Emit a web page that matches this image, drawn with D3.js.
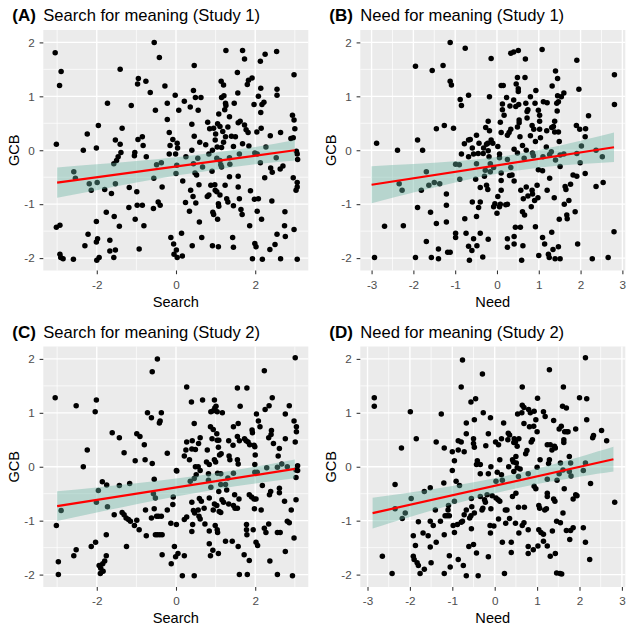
<!DOCTYPE html>
<html>
<head>
<meta charset="utf-8">
<script src="https://cdn.jsdelivr.net/npm/d3@7"></script>
<style>
  body { margin: 0; background: #fff; }
  svg { display: block; font-family: "Liberation Sans", Arial, sans-serif; }
</style>
</head>
<body>
<svg id="chart" width="634" height="633"></svg>
<script>
// points: [x, GCB]
const ptsA = [
  [-3.05,1.81],[-3.02,0.11],[-2.9,1.46],[-2.94,1.2],[-2.34,0.0],[-2.24,0.3],[-2.01,0.04],[-1.96,0.46],[-1.73,0.87],[-1.53,0.19],
  [-1.41,1.5],[-1.41,0.11],[-1.36,0.41],[-1.39,-0.04],[-1.46,-0.12],[-1.13,0.83],[-1.04,-0.04],[-1.05,-0.1],[-0.97,1.23],[-0.95,1.33],
  [-0.96,0.2],[-0.85,0.25],[-0.83,0.09],[-0.76,1.28],[-0.65,1.07],[-0.75,-0.12],[-0.55,2.0],[-0.52,0.74],[-0.42,1.72],[-0.28,1.19],
  [-0.22,0.87],[-0.22,0.57],[-0.17,0.33],[-0.08,0.2],[-0.15,0.09],[-0.17,-0.07],[-0.01,-0.07],[0.03,0.13],[0.04,0.04],[-0.02,1.02],
  [0.07,0.74],[0.21,0.91],[0.25,-0.12],[0.36,0.8],[0.4,0.48],[0.44,1.11],[0.46,1.57],[0.49,0.98],[0.46,0.26],[0.4,0.0],
  [0.56,0.74],[0.63,0.98],[0.55,-0.15],[0.8,0.52],[0.85,0.4],[0.92,0.0],[0.83,-0.07],[0.95,0.41],[0.99,0.19],[1.04,0.06],
  [1.05,0.49],[1.08,0.67],[1.11,0.44],[1.14,1.28],[1.15,0.98],[1.18,0.35],[1.25,0.25],[1.2,1.21],[1.21,1.01],[1.26,1.85],
  [1.23,0.75],[1.26,0.83],[1.25,0.87],[1.31,0.43],[1.35,0.62],[1.4,0.26],[1.47,0.87],[1.5,0.25],[1.45,0.07],[1.55,1.44],
  [1.56,1.06],[1.57,0.51],[1.62,0.54],[1.68,1.85],[1.73,1.69],[1.68,0.12],[1.73,0.47],[1.77,0.38],[1.8,1.22],[1.83,1.3],
  [1.92,1.34],[1.84,0.08],[1.82,0.33],[1.97,0.85],[2.04,0.34],[2.08,1.0],[2.13,1.65],[2.14,1.15],[2.14,0.7],[2.15,0.41],
  [2.17,0.85],[2.22,0.89],[2.25,1.78],[2.27,0.06],[2.38,0.27],[2.54,1.83],[2.55,1.13],[2.55,1.02],[2.64,0.33],[2.94,0.65],
  [2.98,1.4],[2.98,0.56],[3.0,0.4],[2.96,0.23],[2.9,0.22],[3.04,-0.02],[3.06,-0.07],[1.03,-0.15],[1.35,-0.14],[1.6,-0.07],
  [1.99,-0.05],[2.05,-0.07],[2.13,-0.23],[2.53,-0.14],[3.07,-0.17],[1.0,0.3],[1.2,0.15],[0.75,0.1],[1.15,0.05],[0.6,0.15],
  [-2.58,-0.4],[-2.54,-0.52],[-2.19,-0.62],[-2.14,-0.74],[-1.99,-0.6],[-1.8,-0.73],[-1.63,-0.8],[-1.53,-0.62],[-1.57,-0.25],[-1.5,-0.19],
  [-1.18,-0.69],[-0.99,-0.77],[-0.98,-1.02],[-0.85,-1.02],[-0.57,-1.08],[-0.45,-0.96],[-0.4,-1.02],[-0.35,-0.68],[-0.56,-0.52],[-0.49,-0.27],
  [-0.37,-0.23],[0.0,-0.43],[0.02,-0.28],[0.17,-0.57],[0.24,-0.97],[0.34,-1.13],[0.37,-0.74],[0.43,-0.86],[0.44,-0.25],[0.48,-0.42],
  [0.5,-0.98],[0.52,-0.46],[0.58,-0.64],[0.59,-1.33],[0.67,-0.31],[0.79,-0.86],[0.83,-0.83],[0.88,-0.65],[0.91,-0.39],[0.93,-1.15],
  [0.95,-1.19],[0.98,-0.64],[0.99,-0.74],[1.03,-0.77],[1.07,-0.99],[1.08,-1.04],[1.05,-1.28],[1.11,-0.83],[1.13,-0.27],[1.15,-0.31],
  [1.11,-0.19],[1.24,-0.65],[1.28,-0.9],[1.31,-0.96],[1.35,-0.49],[1.36,-0.26],[1.45,-1.03],[1.57,-0.48],[1.57,-0.68],[1.6,-0.9],
  [1.64,-1.1],[1.67,-1.19],[1.88,-0.75],[1.86,-1.4],[1.98,-0.91],[2.08,-0.9],[2.05,-1.13],[2.16,-1.28],[2.24,-0.51],[2.42,-0.94],
  [2.39,-0.33],[2.43,-0.41],[2.63,-0.35],[2.7,-0.29],[2.75,-1.14],[2.74,-1.4],[2.76,-1.6],[2.96,-0.51],[2.98,-1.47],[3.03,-0.74],
  [3.06,-0.6],[3.06,-0.68],[-3.02,-1.43],[-2.93,-1.39],[-2.93,-1.93],[-2.91,-1.99],[-2.85,-2.01],[-2.59,-2.02],[-2.3,-1.77],[-2.22,-1.56],
  [-2.01,-1.32],[-1.98,-1.64],[-2.01,-1.7],[-2.0,-2.04],[-1.94,-1.99],[-1.76,-1.15],[-1.67,-1.67],[-1.67,-1.87],[-1.57,-1.99],[-1.53,-1.85],
  [-1.56,-1.23],[-1.43,-1.41],[-1.19,-1.06],[-1.03,-1.28],[-0.93,-1.83],[-0.81,-1.4],[-0.13,-1.62],[-0.06,-1.74],[-0.05,-1.93],[0.01,-1.85],
  [0.03,-1.99],[0.14,-1.54],[0.16,-1.96],[0.41,-1.77],[0.65,-1.62],[0.92,-1.77],[1.07,-1.79],[1.43,-1.62],[1.45,-1.8],[1.93,-2.01],
  [1.99,-1.73],[2.02,-1.79],[2.18,-2.02],[2.37,-1.84],[2.5,-1.75],[2.55,-1.56],[2.64,-2.01],[3.06,-2.02]
];
const ptsB = [
  [-2.88,0.13],[-2.38,0.0],[-1.95,1.56],[-1.9,0.19],[-1.78,0.0],[-1.55,1.48],[-1.45,0.4],[-1.29,1.57],[-1.26,0.46],[-1.12,2.0],
  [-1.12,1.28],[-1.09,1.21],[-1.04,0.41],[-0.88,0.94],[-0.85,0.83],[-0.85,-0.07],[-0.76,1.89],[-0.78,0.12],[-0.68,1.02],[-0.68,0.19],
  [-0.64,0.2],[-0.68,-0.12],[-0.59,0.04],[-0.49,0.28],[-0.43,0.13],[-0.45,-0.06],[-0.33,-0.06],[-0.32,0.04],[-0.27,0.42],[-0.25,0.11],
  [-0.22,0.13],[-0.21,0.54],[-0.18,0.99],[-0.18,0.36],[-0.14,1.7],[-0.14,0.19],[-0.1,0.13],[-0.21,-0.01],[0.02,0.07],[0.06,-0.07],
  [0.08,0.52],[0.1,1.2],[0.13,0.86],[0.13,0.75],[0.17,0.65],[0.15,1.2],[0.1,0.33],[0.23,0.98],[0.25,0.28],[0.29,0.33],
  [0.33,0.39],[0.33,1.8],[0.31,0.82],[0.4,1.82],[0.4,0.93],[0.45,0.81],[0.46,1.23],[0.49,1.35],[0.51,1.85],[0.51,1.14],
  [0.51,1.09],[0.52,0.85],[0.53,0.56],[0.53,0.51],[0.49,0.43],[0.55,0.25],[0.61,0.09],[0.41,0.02],[0.67,1.35],[0.68,1.69],
  [0.69,0.87],[0.72,0.72],[0.74,0.75],[0.72,0.6],[0.8,0.99],[0.8,0.27],[0.84,0.46],[0.88,0.39],[0.91,0.87],[0.92,0.16],
  [0.93,1.11],[0.99,0.74],[1.02,0.65],[1.02,0.54],[1.02,0.39],[1.04,0.23],[1.08,1.87],[1.11,0.9],[1.2,0.88],[1.19,0.36],
  [1.18,0.06],[1.31,0.42],[1.32,1.19],[1.35,0.44],[1.4,1.47],[1.43,0.87],[1.44,0.73],[1.45,1.01],[1.45,1.33],[1.38,0.54],
  [1.38,0.34],[1.47,0.34],[1.49,0.16],[1.47,0.9],[1.54,0.99],[1.6,1.06],[1.91,1.67],[1.9,0.46],[1.96,1.13],[1.98,0.39],
  [2.11,0.25],[2.12,0.4],[2.19,0.64],[2.81,1.4],[2.81,0.85],[2.02,0.08],[2.37,0.0],[2.52,-0.12],[1.91,-0.06],[1.51,-0.09],
  [0.7,0.0],[0.85,-0.05],[1.3,-0.03],[-0.56,-0.07],[-0.19,-0.12],[-0.16,-0.25],[0.06,-0.14],[0.25,-0.17],[0.49,-0.05],[-0.99,-0.26],
  [-0.9,-0.27],[-0.89,-0.54],[-0.49,-0.25],[-2.34,-0.62],[-2.27,-0.74],[-1.81,-0.74],[-1.69,-0.4],[-1.63,-0.65],[-1.5,-0.6],[-1.37,-0.62],
  [-1.21,-0.81],[-1.21,-1.02],[-1.9,-1.06],[-1.59,-1.15],[-1.45,-1.36],[-1.21,-1.33],[-2.69,-1.41],[-2.24,-1.4],[-1.69,-1.69],[-1.4,-1.83],
  [-1.18,-1.89],[-1.12,-1.89],[-1.4,-2.01],[-1.57,-1.99],[-1.95,-1.99],[-2.93,-1.99],[-0.99,-1.54],[-0.99,-1.62],[-0.77,-1.27],[-0.74,-1.54],
  [-0.68,-1.78],[-0.66,-2.04],[-0.6,-1.86],[-0.56,-1.64],[-0.48,-1.77],[-0.49,-1.23],[-0.59,-0.96],[-0.4,-0.96],[-0.44,-1.06],[-0.4,-1.54],
  [-0.34,-1.98],[-0.21,-1.65],[-0.51,-0.54],[-0.4,-0.69],[-0.3,-0.48],[-0.28,-0.37],[-0.25,-0.65],[-0.22,-0.73],[-0.16,-0.4],[-0.08,-0.32],
  [-0.05,-0.99],[-0.08,-1.05],[0.0,-1.17],[0.02,-0.86],[0.06,-1.05],[0.08,-1.0],[0.1,-0.56],[0.1,-0.74],[0.1,-0.42],[0.21,-1.01],
  [0.25,-1.0],[0.3,-0.47],[0.36,-0.46],[0.33,-0.32],[0.41,-0.57],[0.44,-1.43],[0.41,-1.6],[0.41,-1.74],[0.25,-1.64],[0.25,-1.8],
  [0.56,-1.43],[0.57,-0.74],[0.59,-2.04],[0.62,-1.77],[0.61,-1.14],[0.63,-0.9],[0.66,-1.2],[0.7,-0.68],[0.74,-0.85],[0.84,-0.74],
  [0.85,-0.81],[0.82,-1.05],[0.9,-0.93],[0.92,-1.42],[0.96,-0.65],[0.98,-0.88],[1.0,-1.95],[0.99,-0.36],[1.09,-0.38],[1.09,-1.62],
  [1.14,-1.74],[1.2,-0.74],[1.23,-1.93],[1.26,-0.52],[1.25,-1.99],[1.31,-1.52],[1.34,-1.84],[1.37,-0.88],[1.39,-2.01],[1.47,-1.79],
  [1.49,-1.28],[1.51,-2.01],[1.51,-0.3],[1.61,-1.0],[1.63,-0.67],[1.65,-0.73],[1.67,-1.2],[1.68,-1.27],[1.72,-0.93],[1.76,-0.63],
  [1.82,-0.46],[1.87,-1.14],[1.91,-0.48],[1.93,-1.74],[1.99,-0.23],[2.11,-0.43],[2.28,-2.01],[2.37,-0.67],[2.54,-0.6],[2.66,-1.99],
  [2.8,-1.51],[0.65,-0.15],[0.87,-0.1],[1.1,-0.12],[1.26,-0.08],[1.4,-0.18],[1.6,-0.07]
];
const ptsC = [
  [-3.05,1.28],[-2.52,1.13],[-2.34,0.0],[-2.24,0.31],[-2.04,1.02],[-2.01,1.24],[-1.61,0.63],[-1.43,0.54],[-1.31,0.26],[-1.03,0.11],
  [-0.99,0.61],[-0.91,0.56],[-0.8,0.41],[-0.78,0.13],[-0.72,1.0],[-0.62,0.91],[-0.6,0.06],[-0.6,1.76],[-0.47,2.0],[-0.42,0.81],
  [-0.4,0.85],[-0.37,1.0],[-0.22,0.25],[0.01,-0.07],[0.21,0.2],[0.25,0.31],[0.27,1.48],[0.27,0.46],[0.34,0.13],[0.39,1.2],
  [0.41,0.48],[0.4,0.33],[0.46,0.8],[0.49,0.32],[0.49,0.0],[0.57,0.43],[0.61,0.54],[0.67,1.24],[0.61,-0.07],[0.79,0.31],
  [0.77,0.09],[0.84,0.04],[0.88,1.02],[0.87,0.74],[0.91,0.52],[0.94,0.69],[0.94,1.04],[0.97,1.24],[0.98,1.09],[1.01,1.12],
  [1.04,1.02],[0.97,0.13],[1.0,0.09],[1.03,0.61],[1.04,0.49],[1.08,0.49],[1.07,0.36],[1.1,0.22],[1.14,0.24],[1.17,1.0],
  [1.34,0.2],[1.33,0.48],[1.36,0.13],[1.44,0.4],[1.45,0.74],[1.55,1.46],[1.55,0.56],[1.55,0.13],[1.57,0.8],[1.57,0.05],
  [1.62,1.12],[1.6,0.48],[1.73,0.52],[1.77,0.48],[1.79,1.46],[1.82,0.46],[1.86,0.41],[1.92,0.68],[1.93,0.63],[1.97,0.4],
  [1.99,0.37],[2.0,0.22],[2.03,0.98],[2.08,0.85],[2.12,0.74],[1.99,0.04],[2.23,1.78],[2.25,1.06],[2.35,1.13],[2.43,1.28],
  [2.34,0.54],[2.4,0.6],[2.41,0.67],[2.46,0.43],[2.58,0.2],[2.61,0.34],[2.67,0.05],[2.76,0.98],[2.76,0.52],[2.86,1.13],
  [2.98,0.85],[3.01,2.02],[3.01,0.46],[3.04,0.74],[3.04,0.65],[3.07,0.02],[3.07,-0.07],[0.56,0.0],[0.82,-0.13],[1.05,-0.12],
  [1.13,-0.13],[1.45,-0.12],[1.99,-0.1],[2.05,-0.1],[2.29,-0.02],[2.56,-0.01],[2.81,0.0],
  [-3.02,-1.09],[-2.9,-0.81],[-2.97,-1.76],[-2.97,-2.0],[-2.58,-1.65],[-2.52,-1.54],[-2.14,-1.48],[-2.03,-1.4],[-2.01,-0.66],[-1.96,-0.44],
  [-1.94,-1.83],[-1.91,-1.98],[-1.9,-1.88],[-1.85,-1.8],[-1.84,-1.94],[-1.8,-1.75],[-1.76,-1.65],[-1.76,-1.26],[-1.86,-0.28],[-1.75,-0.34],
  [-1.73,-0.74],[-1.56,-0.89],[-1.43,-0.35],[-1.36,-0.85],[-1.31,-0.89],[-1.26,-0.95],[-1.25,-1.48],[-1.2,-0.98],[-1.17,-0.31],[-1.15,-1.01],
  [-1.05,-1.09],[-0.99,-0.99],[-0.93,-1.17],[-0.77,-0.8],[-0.75,-1.28],[-0.62,-0.95],[-0.55,-0.78],[-0.55,-0.23],[-0.57,-0.5],[-0.52,-0.58],
  [-0.49,-0.92],[-0.44,-0.92],[-0.37,-0.92],[-0.52,-1.26],[-0.47,-1.26],[-0.41,-1.26],[-0.35,-1.26],[-0.35,-1.63],[-0.22,-0.8],[-0.13,-1.05],
  [-0.12,-1.8],[-0.08,-0.7],[-0.07,-0.56],[-0.04,-1.48],[-0.01,-1.67],[0.01,-1.07],[0.02,-0.08],[0.05,-1.61],[0.16,-2.02],[0.21,-1.65],
  [0.21,-0.98],[0.27,-0.93],[0.36,-0.27],[0.4,-0.66],[0.4,-1.2],[0.42,-1.07],[0.44,-0.81],[0.47,-0.86],[0.46,-2.02],[0.46,-0.22],
  [0.51,-0.15],[0.56,-0.8],[0.59,-0.59],[0.58,-0.92],[0.61,-0.97],[0.64,-0.64],[0.71,-0.77],[0.73,-1.06],[0.82,-0.25],[0.84,-0.58],
  [0.84,-1.19],[0.84,-1.43],[0.87,-1.65],[0.88,-0.38],[0.93,-1.55],[0.94,-0.8],[0.97,-0.69],[0.99,-1.09],[1.03,-0.72],[1.04,-1.17],
  [1.05,-1.22],[1.07,-1.61],[1.08,-0.46],[1.09,-0.83],[1.13,-0.85],[1.13,-0.33],[1.16,-0.61],[1.2,-0.66],[1.25,-1.38],[1.25,-0.33],
  [1.28,-0.43],[1.31,-0.21],[1.33,-0.69],[1.42,-1.38],[1.45,-0.72],[1.48,-0.52],[1.49,-0.77],[1.55,-0.77],[1.57,-1.48],[1.59,-0.6],
  [1.6,-2.0],[1.72,-1.63],[1.78,-1.07],[1.78,-1.17],[1.79,-1.26],[1.8,-2.0],[1.85,-1.74],[1.85,-0.52],[1.91,-0.56],[1.95,-1.17],
  [1.97,-0.6],[1.98,-0.78],[2.02,-0.6],[2.02,-1.4],[2.06,-1.46],[2.15,-0.8],[2.18,-0.35],[2.23,-1.14],[2.27,-1.22],[2.34,-1.06],
  [2.36,-0.52],[2.39,-0.46],[2.37,-1.75],[2.56,-2.0],[2.56,-1.22],[2.61,-0.4],[2.61,-0.48],[2.63,-1.22],[2.74,-0.64],[2.76,-1.57],
  [2.81,-1.01],[2.86,-1.04],[2.91,-0.8],[2.94,-2.02],[2.98,-1.32],[3.03,-0.61],[3.03,-0.2],[3.03,-0.06]
];
const ptsD = [
  [-2.84,1.28],[-2.84,1.12],[-2.2,0.35],[-1.99,1.02],[-1.85,0.52],[-1.38,0.46],[-1.26,0.98],[-1.19,0.35],[-1.0,0.28],[-1.0,-0.07],
  [-0.95,0.11],[-0.86,0.31],[-0.86,0.48],[-0.79,1.48],[-0.79,0.46],[-0.76,1.98],[-0.72,0.28],[-0.67,0.81],[-0.67,0.61],[-0.56,1.2],
  [-0.45,1.26],[-0.48,0.87],[-0.5,0.52],[-0.5,0.43],[-0.48,0.36],[-0.43,0.04],[-0.41,0.11],[-0.34,0.04],[-0.29,1.72],[-0.27,1.0],
  [-0.21,0.39],[-0.15,0.61],[-0.1,0.91],[-0.09,0.0],[0.02,0.46],[0.09,0.41],[0.12,0.13],[0.16,0.52],[0.21,0.81],[0.31,0.5],
  [0.32,0.62],[0.33,0.0],[0.35,0.59],[0.42,0.13],[0.44,0.09],[0.45,0.45],[0.46,0.52],[0.49,0.46],[0.5,0.19],[0.51,0.07],
  [0.53,-0.02],[0.54,0.98],[0.53,0.38],[0.57,0.52],[0.65,1.48],[0.65,1.14],[0.69,1.1],[0.64,1.0],[0.69,0.8],[0.73,0.24],
  [0.76,0.3],[0.8,1.06],[0.84,1.0],[0.82,0.74],[0.86,0.46],[0.92,0.75],[0.89,0.5],[0.93,1.03],[0.97,0.87],[1.0,0.65],
  [1.01,1.27],[1.07,0.13],[1.15,1.02],[1.19,0.93],[1.24,0.41],[1.29,1.8],[1.29,0.13],[1.31,0.41],[1.35,0.31],[1.39,0.86],
  [1.41,0.38],[1.43,0.35],[1.52,0.7],[1.57,0.75],[1.6,1.12],[1.62,1.48],[1.63,0.5],[1.63,0.45],[1.65,0.65],[1.69,1.09],
  [1.7,0.65],[1.73,0.65],[1.76,0.19],[1.91,0.7],[2.0,1.28],[2.14,2.02],[2.17,1.26],[2.17,0.87],[2.31,0.54],[2.33,0.58],
  [2.52,0.67],[2.64,0.48],[2.14,0.07],[1.55,0.07],[1.79,0.07],[1.27,0.06],[0.6,-0.04],
  [-2.35,-0.33],[-2.65,-1.66],[-2.42,-1.98],[-2.35,-0.78],[-2.18,-0.96],[-2.11,-0.86],[-1.97,-0.59],[-1.92,-1.28],[-1.87,-1.46],[-1.92,-1.66],
  [-1.9,-1.72],[-1.83,-1.78],[-1.8,-1.83],[-1.8,-1.02],[-1.76,-1.98],[-1.69,-1.23],[-1.66,-1.9],[-1.66,-0.46],[-1.57,-1.28],[-1.52,-0.39],
  [-1.52,-1.01],[-1.52,-1.49],[-1.5,-1.78],[-1.45,-1.09],[-1.4,-0.8],[-1.38,-1.4],[-1.28,-1.01],[-1.2,-0.3],[-1.19,-1.26],[-1.19,-1.98],
  [-1.17,-0.91],[-1.12,-0.91],[-1.1,-0.8],[-1.09,-0.72],[-1.07,-0.91],[-1.07,-1.65],[-1.05,-1.86],[-0.98,-1.09],[-0.95,-1.22],[-0.95,-0.64],
  [-0.91,-0.27],[-0.88,-1.07],[-0.86,-1.72],[-0.83,-0.35],[-0.79,-1.03],[-0.76,-1.01],[-0.74,-1.83],[-0.72,-0.89],[-0.67,-2.02],[-0.67,-0.8],
  [-0.61,-1.48],[-0.59,-0.95],[-0.56,-0.91],[-0.55,-1.15],[-0.55,-0.59],[-0.54,-0.74],[-0.5,-1.44],[-0.48,-0.86],[-0.43,-1.6],[-0.39,-2.02],
  [-0.34,-0.55],[-0.3,-0.8],[-0.28,-0.77],[-0.24,-0.61],[-0.22,-0.66],[-0.18,-0.52],[-0.15,-1.67],[-0.11,-1.09],[-0.1,-1.23],[-0.09,-0.78],
  [-0.06,-0.54],[-0.02,-1.1],[0.03,-0.58],[0.08,-0.61],[0.09,-0.97],[0.12,-0.64],[0.18,-1.4],[0.23,-1.98],[0.25,-0.8],[0.26,-1.05],
  [0.29,-0.8],[0.35,-0.96],[0.39,-1.4],[0.39,-1.59],[0.42,-0.55],[0.5,-0.49],[0.49,-1.05],[0.56,-0.75],[0.57,-1.23],[0.65,-1.09],
  [0.69,-1.04],[0.7,-0.75],[0.79,-1.17],[0.79,-1.48],[0.79,-1.61],[0.91,-1.54],[0.93,-0.36],[0.97,-0.41],[1.02,-1.47],[1.04,-0.72],
  [1.04,-1.17],[1.06,-0.77],[1.09,-1.22],[1.15,-1.25],[1.15,-1.38],[1.18,-0.8],[1.22,-0.78],[1.24,-1.47],[1.24,-0.55],[1.24,-0.49],
  [1.31,-1.66],[1.36,-1.19],[1.39,-0.6],[1.42,-0.64],[1.43,-1.61],[1.46,-1.97],[1.46,-1.01],[1.47,-0.25],[1.54,-1.98],[1.55,-1.04],
  [1.58,-1.99],[1.61,-0.86],[1.64,-0.41],[1.69,-1.18],[1.77,-1.35],[1.79,-1.18],[1.85,-1.13],[1.85,-0.6],[1.91,-0.52],[1.94,-0.54],
  [2.09,-1.13],[2.14,-1.4],[2.24,-1.72],[2.26,-0.31],[2.83,-0.66],[2.09,-0.07],[1.8,-0.17],[-0.34,-0.13],[-0.15,-0.13],[0.06,-0.1],
  [0.16,-0.15],[0.45,-0.09],[0.56,-0.18],[0.79,-0.13],[1.0,-0.01],[1.24,-0.23],[1.52,-0.13],[1.61,-0.06],[1.76,-0.09],[0.03,-0.27],
  [0.18,-0.25]
];

// linear fit and 95% band, per panel
const bandXA = [-3, -2, -1, 0, 1, 2, 3];
const bandLoA = [-0.88, -0.74, -0.60, -0.47, -0.36, -0.26, -0.19];
const bandHiA = [-0.32, -0.26, -0.20, -0.13, -0.04, 0.06, 0.19];
const lineA = [[-3, -0.60], [3, 0.0]];

const bandXB = [-3, -2, -1, 0, 1, 2, 2.8];
const bandLoB = [-0.985, -0.785, -0.596, -0.435, -0.324, -0.257, -0.219];
const bandHiB = [-0.295, -0.255, -0.204, -0.125, 0.004, 0.177, 0.331];
const lineB = [[-3, -0.64], [2.8, 0.056]];

const bandXC = [-3, -2, -1, 0, 1, 2, 3];
const bandLoC = [-1.005, -0.847, -0.694, -0.55, -0.42, -0.309, -0.215];
const bandHiC = [-0.455, -0.383, -0.306, -0.22, -0.12, -0.001, 0.135];
const lineC = [[-3, -0.73], [3, -0.04]];

const bandXD = [-2.88, -2, -1, 0, 1, 2, 2.8];
const bandLoD = [-1.145, -0.933, -0.702, -0.493, -0.322, -0.185, -0.09];
const bandHiD = [-0.575, -0.477, -0.356, -0.213, -0.032, 0.183, 0.37];
const lineD = [[-2.88, -0.86], [2.8, 0.14]];

const tags = ["(A)", "(B)", "(C)", "(D)"];
const titles = ["Search for meaning (Study 1)", "Need for meaning (Study 1)",
                "Search for meaning (Study 2)", "Need for meaning (Study 2)"];
const xTitles = ["Search", "Need", "Search", "Need"];
const yTicks = [-2, -1, 0, 1, 2];
const searchTicks = [-2, 0, 2];
const needTicks = [-3, -2, -1, 0, 1, 2, 3];

const svg = d3.select("#chart");

const panels = [
  { left: 43.3, top: 30, xDom: [-3.35, 3.34], ticks: searchTicks, pts: ptsA, bx: bandXA, lo: bandLoA, hi: bandHiA, line: lineA },
  { left: 360.3, top: 30, xDom: [-3.27, 3.07], ticks: needTicks, pts: ptsB, bx: bandXB, lo: bandLoB, hi: bandHiB, line: lineB },
  { left: 43.3, top: 346.5, xDom: [-3.35, 3.34], ticks: searchTicks, pts: ptsC, bx: bandXC, lo: bandLoC, hi: bandHiC, line: lineC },
  { left: 360.3, top: 346.5, xDom: [-3.17, 3.08], ticks: needTicks, pts: ptsD, bx: bandXD, lo: bandLoD, hi: bandHiD, line: lineD }
];
const pw = 265, ph = 240.5;

// minor grid halfway between major ticks
function minorOf(ticks, dom) {
  const step = ticks[1] - ticks[0];
  const out = [];
  for (let v = ticks[0] - step / 2; v <= dom[1]; v += step) {
    if (v >= dom[0]) out.push(v);
  }
  return out;
}

panels.forEach(function(p, i) {
  const x = d3.scaleLinear().domain(p.xDom).range([0, pw]);
  const y = d3.scaleLinear().domain([-2.23, 2.23]).range([ph, 0]);
  const g = svg.append("g").attr("transform", "translate(" + p.left + "," + p.top + ")");

  g.append("rect").attr("width", pw).attr("height", ph).attr("fill", "#EBEBEB");

  g.append("clipPath").attr("id", "clip" + i)
    .append("rect").attr("width", pw).attr("height", ph);

  // grid
  const grid = g.append("g").attr("stroke", "#fff");
  grid.selectAll(".vmin").data(minorOf(p.ticks, p.xDom)).enter().append("line")
    .attr("x1", d => x(d)).attr("x2", d => x(d)).attr("y1", 0).attr("y2", ph).attr("stroke-width", 0.7);
  grid.selectAll(".hmin").data(minorOf(yTicks, [-2.23, 2.23])).enter().append("line")
    .attr("y1", d => y(d)).attr("y2", d => y(d)).attr("x1", 0).attr("x2", pw).attr("stroke-width", 0.7);
  grid.selectAll(".vmaj").data(p.ticks).enter().append("line")
    .attr("x1", d => x(d)).attr("x2", d => x(d)).attr("y1", 0).attr("y2", ph).attr("stroke-width", 1.4);
  grid.selectAll(".hmaj").data(yTicks).enter().append("line")
    .attr("y1", d => y(d)).attr("y2", d => y(d)).attr("x1", 0).attr("x2", pw).attr("stroke-width", 1.4);

  const art = g.append("g").attr("clip-path", "url(#clip" + i + ")");

  art.selectAll("circle").data(p.pts).enter().append("circle")
    .attr("cx", d => x(d[0])).attr("cy", d => y(d[1])).attr("r", 2.75).attr("fill", "#000");

  const area = d3.area()
    .x((d, j) => x(p.bx[j]))
    .y0((d, j) => y(p.lo[j]))
    .y1((d, j) => y(p.hi[j]))
    .curve(d3.curveNatural);
  art.append("path").datum(p.bx).attr("d", area)
    .attr("fill", "#69b3a2").attr("fill-opacity", 0.4);

  art.append("path").datum(p.line)
    .attr("d", d3.line().x(d => x(d[0])).y(d => y(d[1])))
    .attr("stroke", "red").attr("stroke-width", 2.2).attr("fill", "none");

  // axes
  const xAxis = g.append("g").attr("transform", "translate(0," + ph + ")")
    .call(d3.axisBottom(x).tickValues(p.ticks).tickSize(3.7).tickPadding(6.3).tickFormat(d => String(d)));
  const yAxis = g.append("g")
    .call(d3.axisLeft(y).tickValues(yTicks).tickSize(3.7).tickPadding(4.9).tickFormat(d => String(d)));
  [xAxis, yAxis].forEach(function(a) {
    a.select(".domain").remove();
    a.selectAll(".tick line").attr("stroke", "#333").attr("stroke-width", 1.07);
    a.selectAll(".tick text").attr("fill", "#4D4D4D").style("font-size", "11.7px")
      .style("font-family", "'Liberation Sans', Arial, sans-serif");
  });

  // labels
  g.append("text").attr("x", pw / 2).attr("y", ph + 36)
    .attr("text-anchor", "middle").style("font-size", "14.6px").attr("fill", "#000")
    .text(xTitles[i]);
  g.append("text")
    .attr("transform", "translate(" + (-24) + "," + (ph / 2) + ") rotate(-90)")
    .attr("text-anchor", "middle").style("font-size", "14.6px").attr("fill", "#000")
    .text("GCB");
  g.append("text").attr("x", 0).attr("y", -8.6)
    .style("font-size", "16.6px").attr("fill", "#000").text(titles[i]);
  g.append("text").attr("x", -31).attr("y", -8.6)
    .style("font-size", "17px").style("font-weight", "bold").attr("fill", "#000").text(tags[i]);
});
</script>
</body>
</html>
